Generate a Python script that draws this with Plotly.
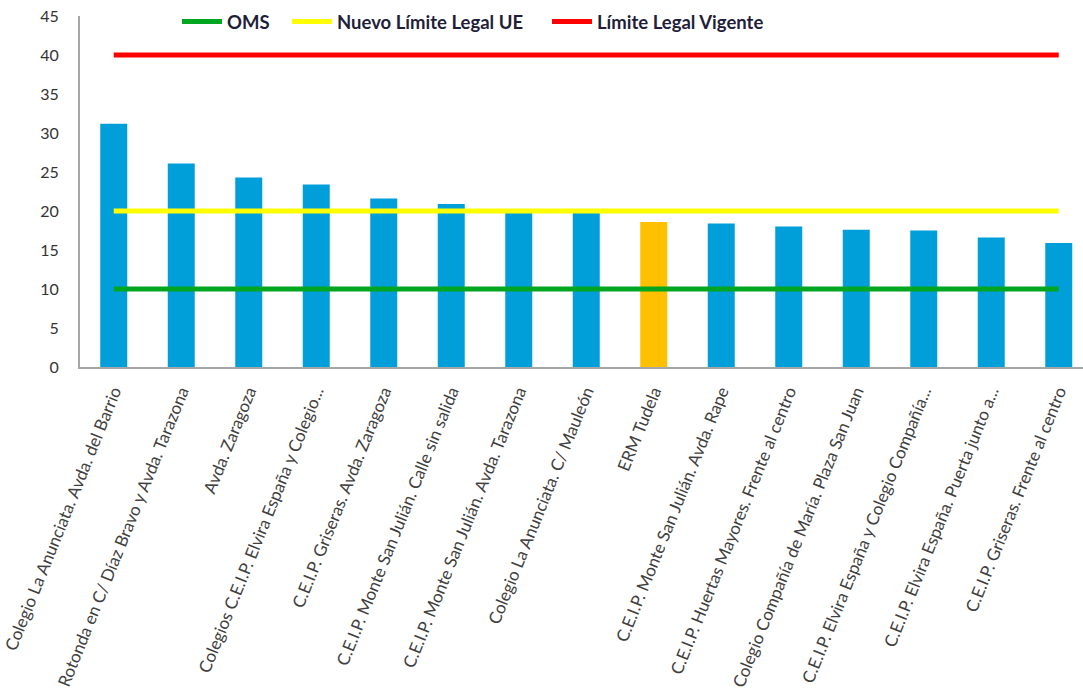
import plotly.graph_objects as go

categories = [
    "Colegio La Anunciata. Avda. del Barrio",
    "Rotonda en C/ Díaz Bravo y Avda. Tarazona",
    "Avda. Zaragoza",
    "Colegios C.E.I.P. Elvira España y Colegio...",
    "C.E.I.P. Griseras. Avda. Zaragoza",
    "C.E.I.P. Monte San Julián. Calle sin salida",
    "C.E.I.P. Monte San Julián. Avda. Tarazona",
    "Colegio La Anunciata. C/ Mauleón",
    "ERM Tudela",
    "C.E.I.P. Monte San Julián. Avda. Rape",
    "C.E.I.P. Huertas Mayores. Frente al centro",
    "Colegio Compañía de María. Plaza San Juan",
    "C.E.I.P. Elvira España y Colegio Compañía...",
    "C.E.I.P. Elvira España. Puerta junto a...",
    "C.E.I.P. Griseras. Frente al centro",
]
values = [31.2, 26.1, 24.3, 23.4, 21.6, 20.9, 19.8, 19.8, 18.6, 18.4, 18.0, 17.6, 17.5, 16.6, 15.9]
bar_colors = ["#009FDA"] * 8 + ["#FFC000"] + ["#009FDA"] * 6

oms = [10, 10, 10, 10, 10, 10, 10, 10, 10, 10, 10, 10, 10, 10, 10]
nuevo_ue = [20, 20, 20, 20, 20, 20, 20, 20, 20, 20, 20, 20, 20, 20, 20]
vigente = [40, 40, 40, 40, 40, 40, 40, 40, 40, 40, 40, 40, 40, 40, 40]

y_ticks = [0, 5, 10, 15, 20, 25, 30, 35, 40, 45]

FONT = "Lato"

left, top, bottom = 80, 16, 324
W, H = 1083, 691
plot_w = W - left
plot_h = H - top - bottom
cat_w = 67.5

fig = go.Figure()
fig.add_trace(go.Bar(x=categories, y=values, marker=dict(color=bar_colors, line=dict(width=0)),
                     width=0.4, showlegend=False))
fig.add_trace(go.Scatter(x=categories, y=oms, mode="lines", name="OMS",
                         line=dict(color="#00A620", width=5), legend="legend"))
fig.add_trace(go.Scatter(x=categories, y=nuevo_ue, mode="lines", name="Nuevo Límite Legal UE",
                         line=dict(color="#FFFF00", width=5), legend="legend2"))
fig.add_trace(go.Scatter(x=categories, y=vigente, mode="lines", name="Límite Legal Vigente",
                         line=dict(color="#FF0000", width=5), legend="legend3"))

legend_font = dict(family=FONT, size=18.5, color="#1F1F3A", weight="bold")


def leg(px):
    return dict(orientation="h", x=(px - left) / plot_w, xanchor="left",
                y=1 - (22 - top) / plot_h, yanchor="middle",
                font=legend_font, bgcolor="rgba(0,0,0,0)", itemwidth=40)


fig.update_layout(
    width=W, height=H,
    margin=dict(l=left, r=0, t=top, b=bottom, pad=0),
    plot_bgcolor="white", paper_bgcolor="white",
    font=dict(family=FONT, color="#404040"),
    legend=leg(177), legend2=leg(287), legend3=leg(547),
    xaxis=dict(range=[-0.5, -0.5 + plot_w / cat_w], showline=True, linecolor="#A6A6A6", linewidth=2,
               tickangle=-68, tickfont=dict(family=FONT, size=17, color="#404040"),
               ticks="", showgrid=False, ticklabelstandoff=6, automargin=False),
    yaxis=dict(range=[0, 45], tickvals=y_ticks, showline=True, linecolor="#A6A6A6", linewidth=2,
               tickfont=dict(family=FONT, size=16, color="#333333"), ticks="", showgrid=False,
               zeroline=False, ticklabelstandoff=16, automargin=False),
)

fig.write_html("out.html", config={"displayModeBar": False},
               post_script="document.body.style.margin='0';document.body.style.overflow='hidden';")
